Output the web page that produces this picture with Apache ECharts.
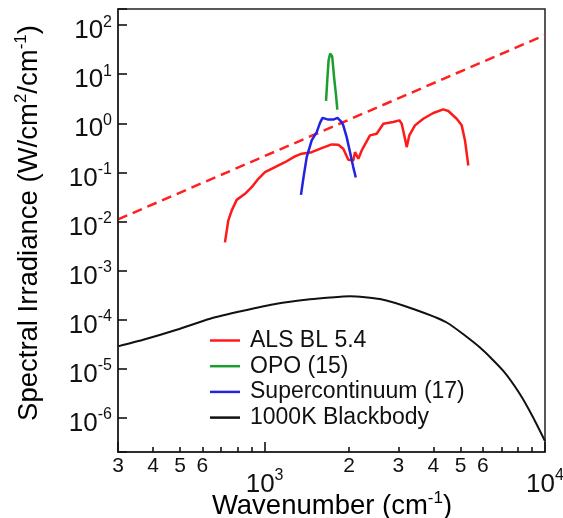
<!DOCTYPE html>
<html><head><meta charset="utf-8">
<script src="https://cdn.jsdelivr.net/npm/echarts@6/dist/echarts.min.js"></script>
<style>html,body{margin:0;padding:0;background:#fff}#c{width:563px;height:518px}</style>
</head><body><div id="c"></div>
<script>
const FONT = 'Liberation Sans, Arial, Helvetica, sans-serif';

// ---- data (wavenumber cm^-1, spectral irradiance W/cm^2/cm^-1) ----
const alsX = [722,742,763,795,851,899,950,1003,1089,1182,1283,1356,1472,1598,1735,1831,1908,1988,2071,2101,2159,2220,2376,2510,2651,2877,3023,3083,3167,3212,3281,3438,3680,3996,4337,4520,4842,5046,5184,5327];
const alsY = [0.00375,0.0104,0.0166,0.0275,0.0365,0.0498,0.074,0.101,0.128,0.161,0.211,0.240,0.258,0.312,0.371,0.366,0.303,0.181,0.175,0.258,0.189,0.280,0.567,0.614,0.98,1.06,1.15,0.98,0.485,0.327,0.567,0.908,1.24,1.62,1.92,1.78,1.24,0.908,0.448,0.138];
const opoX = [1656,1673,1691,1713,1742,1771,1798,1817];
const opoY = [2.87,7.53,19.3,26.4,23.0,8.27,3.72,1.90];
const scX = [1348,1374,1413,1472,1534,1576,1609,1687,1758,1820,1883,1908,1962,2016,2071,2114];
const scY = [0.0348,0.074,0.204,0.448,0.662,1.02,1.29,1.19,1.19,1.29,1.06,0.908,0.523,0.261,0.128,0.0786];
const bbX = [300,369,486,639,839,1104,1451,1711,2016,2579,3390,4461,5864,7100,8145,9082,10000];
const bbY = [2.84e-5,3.86e-5,6.18e-5,1.04e-4,1.51e-4,2.10e-4,2.59e-4,2.82e-4,2.99e-4,2.62e-4,1.64e-4,8.7e-5,2.69e-5,8.98e-6,3.0e-6,1.0e-6,3.34e-7];
const limX = [300, 10000];
const limY = [0.011, 63];

const seriesNames = ['ALS BL 5.4','OPO (15)','Supercontinuum (17)','1000K Blackbody'];

// ---- axes / tick labels ----
const xMin = 300, xMax = 10000;
const yMinExp = -6.70, yMaxExp = 2.33;
const xMinorLabels = [300,400,500,600,2000,3000,4000,5000,6000];
const xMajorLabels = [1000,10000];
const yDecades = [-6,-5,-4,-3,-2,-1,0,1,2];

const lg = Math.log10;
const pairs = (xs, ys) => xs.map((x, i) => [x, ys[i]]);
const INK = '#111';
const supRich = () => ({
  b: {fontSize: 26, color: INK, lineHeight: 30, verticalAlign: 'bottom'},
  s: {fontSize: 16, color: INK, lineHeight: 14, verticalAlign: 'top'}
});
const titleRich = () => ({
  t: {fontFamily: FONT, fontSize: 27.5, color: INK, lineHeight: 30, verticalAlign: 'bottom'},
  s: {fontFamily: FONT, fontSize: 17, color: INK, lineHeight: 14, verticalAlign: 'top'}
});
const expLabel = v => '{b|10}{s|' + Math.round(v) + '}';

const chart = echarts.init(document.getElementById('c'));
chart.setOption({
  animation: false,
  textStyle: {fontFamily: FONT},
  grid: {left: 118, top: 9, right: 18, bottom: 66, show: true, borderColor: '#222', borderWidth: 1.5,
         outerBoundsMode: 'none'},
  xAxis: [
    {type: 'log', min: xMin, max: xMax, position: 'bottom', z: 10,
     axisLine: {show: true, onZero: false, lineStyle: {color: '#222', width: 1.5}},
     axisTick: {show: true, inside: true, length: 10, lineStyle: {color: '#111', width: 1.6}},
     minorTick: {show: true, splitNumber: 9, length: 5, lineStyle: {color: '#111', width: 1.6}},
     axisLabel: {show: false}, splitLine: {show: false}},
    {type: 'value', min: lg(xMin), max: lg(xMax), position: 'bottom', z: 10,
     axisLine: {show: false, onZero: false}, axisTick: {show: false}, splitLine: {show: false},
     axisLabel: {show: true, customValues: xMinorLabels.map(v => lg(v)), margin: 4, fontSize: 21, color: INK,
       formatter: v => String(Math.round(Math.pow(10, v - Math.floor(v + 1e-9))))}},
    {type: 'value', min: lg(xMin), max: lg(xMax), position: 'bottom', z: 10,
     axisLine: {show: false, onZero: false}, axisTick: {show: false}, splitLine: {show: false},
     axisLabel: {show: true, customValues: xMajorLabels.map(v => lg(v)), margin: 16, formatter: expLabel, rich: supRich()}}
  ],
  yAxis: [
    {type: 'log', min: Math.pow(10, yMinExp), max: Math.pow(10, yMaxExp), splitNumber: 9, position: 'left', z: 10,
     axisLine: {show: true, onZero: false, lineStyle: {color: '#222', width: 1.5}},
     axisTick: {show: true, inside: true, length: 9, lineStyle: {color: '#111', width: 1.6}},
     axisLabel: {show: false}, splitLine: {show: false}},
    {type: 'value', min: yMinExp, max: yMaxExp, position: 'left', z: 10,
     axisLine: {show: false, onZero: false}, axisTick: {show: false}, splitLine: {show: false},
     axisLabel: {show: true, customValues: yDecades, margin: 6, padding: [8, 0, 0, 0], formatter: expLabel, rich: supRich()}}
  ],
  legend: {
    orient: 'vertical', left: 210, top: 328, padding: 0, itemWidth: 30, itemHeight: 2.5, itemGap: 0.7,
    icon: 'rect', selectedMode: false,
    textStyle: {fontSize: 23, color: INK, lineHeight: 25, padding: [0, 0, 0, 5]},
    data: seriesNames
  },
  series: [
    {name: 'limit', type: 'line', data: pairs(limX, limY), symbol: 'none',
     color: '#ff2020', lineStyle: {color: '#ff2020', width: 2.5, type: [10, 6]}},
    {name: seriesNames[0], type: 'line', data: pairs(alsX, alsY), symbol: 'none',
     color: '#ff1a1a', lineStyle: {color: '#ff1a1a', width: 2.5}},
    {name: seriesNames[1], type: 'line', data: pairs(opoX, opoY), symbol: 'none',
     color: '#1a9e2e', lineStyle: {color: '#1a9e2e', width: 2.5}},
    {name: seriesNames[2], type: 'line', data: pairs(scX, scY), symbol: 'none',
     color: '#2323e0', lineStyle: {color: '#2323e0', width: 2.5}},
    {name: seriesNames[3], type: 'line', data: pairs(bbX, bbY), symbol: 'none',
     smooth: 0.2, color: '#111', lineStyle: {color: '#111', width: 2}}
  ],
  graphic: [
    {type: 'text', x: 28, y: 223, rotation: Math.PI / 2,
     style: {text: '{t|Spectral Irradiance (W/cm}{s|2}{t|/cm}{s|-1}{t|)}', align: 'center', verticalAlign: 'middle', rich: titleRich()}},
    {type: 'text', x: 332, y: 505,
     style: {text: '{t|Wavenumber (cm}{s|-1}{t|)}', align: 'center', verticalAlign: 'middle', rich: titleRich()}}
  ]
});
</script></body></html>
